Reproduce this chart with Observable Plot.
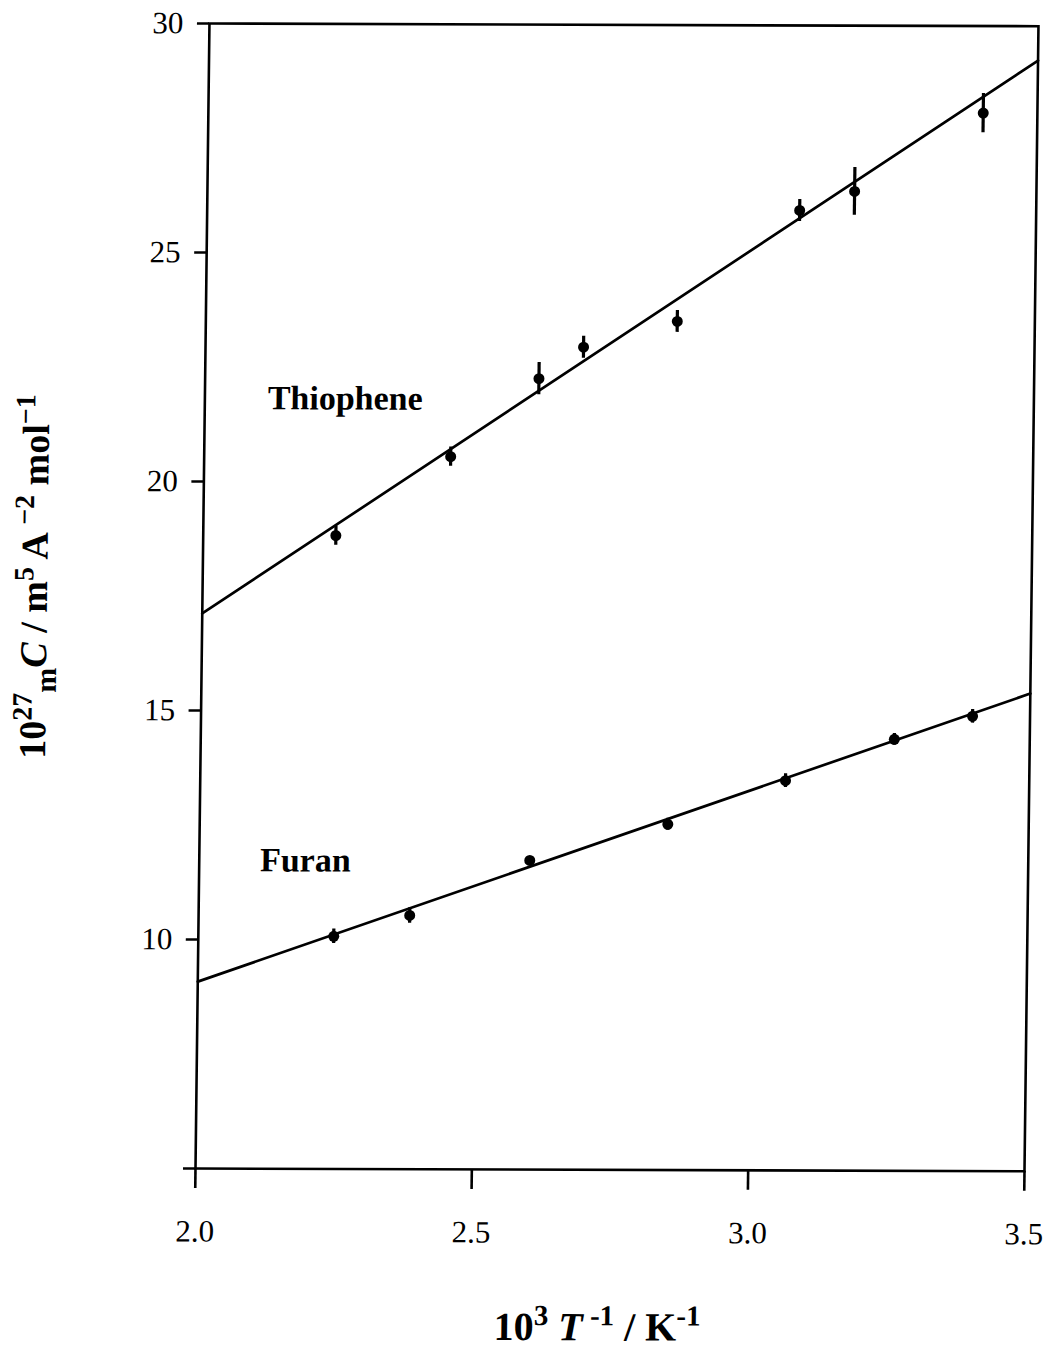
<!DOCTYPE html>
<html><head><meta charset="utf-8">
<script src="https://cdn.jsdelivr.net/npm/d3@7"></script>
<script src="https://cdn.jsdelivr.net/npm/@observablehq/plot@0.6"></script>
<style>
body{margin:0;background:#fff;}
#chart{position:absolute;left:0;top:0;width:1053px;height:1351px;}
#chart svg{transform-origin:195px 1168px;transform:matrix(1,0.0033,-0.0122,1,0,0);}
text{white-space:pre;}
</style></head><body><div id="chart"></div>
<script>
// axis ticks
const xTicks = [2.0, 2.5, 3.0, 3.5];
const yTicks = [5, 10, 15, 20, 25, 30];

// Thiophene data (10^3 T^-1, 10^27 mC, error)
const thiopheneX   = [2.24, 2.446, 2.604, 2.684, 2.853, 3.072, 3.171, 3.402];
const thiopheneY   = [18.83, 20.56, 22.27, 22.96, 23.53, 25.96, 26.38, 28.10];
const thiopheneErr = [0.21, 0.21, 0.35, 0.24, 0.24, 0.24, 0.52, 0.43];

// Furan data
const furanX   = [2.245, 2.382, 2.598, 2.847, 3.059, 3.255, 3.396];
const furanY   = [10.08, 10.54, 11.75, 12.55, 13.51, 14.42, 14.93];
const furanErr = [0.16, 0.17, 0, 0.13, 0.15, 0.13, 0.15];

// fitted straight lines (values at the ends of the x range)
const fitX = [2.0, 3.5];
const thiopheneFit = [17.12, 29.25];
const furanFit = [9.08, 15.43];

// in-plot series labels
const seriesNames = ["Thiophene", "Furan"];
const seriesLabelX = [2.254, 2.192];
const seriesLabelY = [21.82, 11.73];

const thio = thiopheneX.map((x, i) => ({x, y: thiopheneY[i], e: thiopheneErr[i]}));
const fur = furanX.map((x, i) => ({x, y: furanY[i], e: furanErr[i]}));
const fitT = fitX.map((x, i) => ({x, y: thiopheneFit[i]}));
const fitF = fitX.map((x, i) => ({x, y: furanFit[i]}));
const labels = seriesNames.map((t, i) => ({t, x: seriesLabelX[i], y: seriesLabelY[i]}));
const allPts = thio.concat(fur);

const plot = Plot.plot({
  width: 1053,
  height: 1351,
  marginLeft: 195,
  marginRight: 29,
  marginTop: 23,
  marginBottom: 183,
  style: {fontFamily: "'Liberation Serif', 'Times New Roman', serif", fontSize: "31px", color: "black", background: "white"},
  x: {domain: [2.0, 3.5]},
  y: {domain: [5, 30]},
  marks: [
    Plot.frame({stroke: "black", strokeWidth: 2.6}),
    Plot.axisX({ticks: xTicks, tickSize: 20, tickPadding: 31, tickFormat: d3.format(".1f"), strokeWidth: 2.6, fontSize: 31, label: null}),
    Plot.axisY({ticks: yTicks, tickSize: 12, tickPadding: 14, tickFormat: d => d === 5 ? "" : String(d), strokeWidth: 2.6, fontSize: 31, label: null}),
    Plot.line(fitT, {x: "x", y: "y", stroke: "black", strokeWidth: 2.7}),
    Plot.line(fitF, {x: "x", y: "y", stroke: "black", strokeWidth: 2.7}),
    Plot.ruleX(allPts.filter(d => d.e > 0), {x: "x", y1: d => d.y - d.e, y2: d => d.y + d.e, stroke: "black", strokeWidth: 3.2}),
    Plot.dot(allPts, {x: "x", y: "y", r: 5.5, fill: "black", stroke: null}),
    Plot.text(labels, {x: "x", y: "y", text: "t", fontSize: 34, fontWeight: "bold", fill: "black"})
  ]
});
document.getElementById("chart").appendChild(plot);

const svg = d3.select(plot);
// y axis title
const yt = svg.append("text")
  .attr("transform", "translate(40,577) rotate(-90)")
  .attr("text-anchor", "middle")
  .attr("font-weight", "bold")
  .attr("fill", "black")
  .attr("font-size", 38);
const ySeg = [["10", 38, 0, "normal"], ["27", 28, -14, "normal"], ["m", 30, 24, "normal"], ["C", 38, -10, "italic"],
  [" / m", 38, 0, "normal"], ["5", 28, -14, "normal"], [" A ", 38, 14, "normal"], ["\u22122", 28, -14, "normal"],
  [" mol", 38, 14, "normal"], ["\u22121", 28, -14, "normal"]];
ySeg.forEach(([t, fs, dy, st]) => yt.append("tspan").attr("font-size", fs).attr("dy", dy).attr("font-style", st).text(t));

// x axis title
const xt = svg.append("text")
  .attr("x", 599).attr("y", 1339)
  .attr("text-anchor", "middle")
  .attr("font-weight", "bold")
  .attr("fill", "black")
  .attr("font-size", 40);
const xSeg = [["10", 40, 0, "normal"], ["3", 29, -15, "normal"], [" T", 40, 15, "italic"], [" -1", 29, -15, "normal"],
  [" / K", 40, 15, "normal"], ["-1", 29, -15, "normal"]];
xSeg.forEach(([t, fs, dy, st]) => xt.append("tspan").attr("font-size", fs).attr("dy", dy).attr("font-style", st).text(t));
</script>
</body></html>
